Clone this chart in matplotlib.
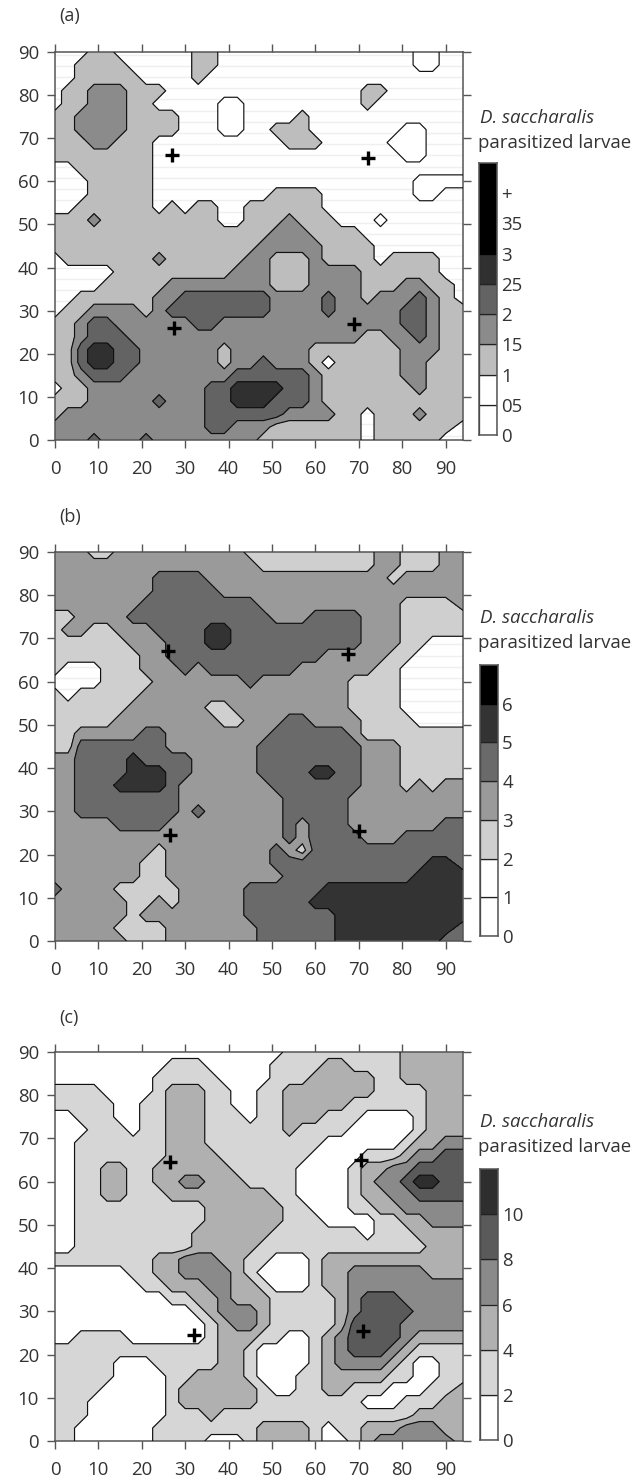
import matplotlib
matplotlib.use("Agg")
import matplotlib.pyplot as plt
import numpy as np

plt.rcParams['font.family'] = ['Open Sans', 'DejaVu Sans']

# sampling points of the maps (field position, m)
x_grid = [0, 3, 6, 9, 12, 15, 18, 21, 24, 27, 30, 33, 36, 39, 42, 45,
          48, 51, 54, 57, 60, 63, 66, 69, 72, 75, 78, 81, 84, 87, 90, 94]
y_grid = [90, 87, 84, 81, 78, 75, 72, 69, 66, 63, 60, 57, 54, 51, 48, 45,
          42, 39, 36, 33, 30, 27, 24, 21, 18, 15, 12, 9, 6, 3, 0]

rows_a = [
    "1112 2111 1112 2111 1111 1111 1111 0011",
    "1122 2211 1112 2111 1111 1111 1111 0011",
    "1122 2221 1112 1111 1111 1111 1111 1111",
    "1223 3322 2111 1111 1111 1111 2211 1111",
    "1223 3322 1111 1001 1111 1111 2111 1111",
    "2233 3322 2211 1001 1112 1111 1111 1111",
    "2233 3322 2211 1001 1222 1111 1110 0111",
    "2223 3222 1111 1111 1122 2111 1100 0111",
    "2222 2222 1111 1111 1111 1111 1110 0111",
    "1122 2222 1111 1111 1111 1111 1111 1111",
    "1112 2222 1111 1111 1111 1111 1111 0000",
    "1112 2222 1111 1111 1222 2111 1111 0011",
    "1122 2222 1212 2112 2222 2111 1111 1111",
    "2223 2222 2222 2112 2232 2211 1011 1111",
    "2222 2222 2222 2222 2333 2222 1111 1111",
    "2222 2222 2222 2222 3333 3222 2111 1111",
    "1222 2222 3222 2223 3222 3222 2122 2211",
    "1111 1222 2222 2233 3222 3333 2222 2211",
    "1111 2222 2333 3333 3222 3333 2223 3221",
    "1122 2222 3344 4444 4333 3433 2333 4321",
    "1223 3332 3444 4444 4333 3433 3334 4322",
    "2234 4333 3334 4333 3333 3333 3334 4322",
    "2234 4433 3333 3333 3333 3333 2233 4322",
    "2245 5443 3333 3233 3333 2222 2223 3322",
    "2245 5443 3333 3233 4333 2122 2223 3222",
    "2234 4433 3333 3344 4444 3222 2223 3222",
    "1223 3333 3333 4455 5544 3222 2222 3222",
    "2223 3333 4333 4455 5444 3222 2222 2222",
    "2333 3333 3333 4444 4433 3322 1222 3222",
    "3333 3333 3333 4433 3222 2222 1222 2221",
    "3334 3334 3333 3333 2222 2222 1222 2211",
]
rows_b = [
    "3332 2333 3333 3332 2222 2222 2332 2233",
    "3333 3333 3333 3333 2222 2222 2332 2233",
    "3333 3333 4444 3333 3333 3333 3323 3333",
    "3333 3333 4444 4333 3333 3333 3333 3333",
    "3333 3334 4444 4444 3333 3333 3332 2223",
    "2233 3344 4444 4444 4333 4444 3332 2222",
    "2332 2333 4444 5544 4444 4444 3332 2222",
    "2222 2233 3444 5544 4444 4444 3332 2111",
    "2222 2223 3444 4444 4444 4333 3322 1111",
    "2111 2223 3343 4444 4443 3333 3221 1111",
    "1111 2222 3333 3334 3333 3332 2221 1111",
    "2122 2223 3333 3333 3333 3332 2221 1111",
    "2222 2233 3333 2233 3333 3332 2221 1111",
    "2222 2333 3333 3223 3344 3333 2222 1111",
    "2233 3334 4333 3333 3444 4443 2222 2222",
    "2244 4444 4333 3333 4444 4444 3332 2222",
    "3344 4454 4443 3333 4444 4444 3332 2222",
    "3344 4455 5443 3333 4444 5544 3332 2222",
    "3344 4555 5433 3333 3444 4444 3332 3233",
    "3344 4444 4433 3333 3344 4443 3333 3333",
    "3344 4444 4434 3333 3344 4443 3333 3333",
    "3333 3444 4333 3333 3343 4443 3333 3344",
    "3333 3333 3333 3333 3343 4444 3334 4444",
    "3333 3333 2333 3333 3432 4444 4444 4444",
    "3333 3332 2333 3333 3444 4444 4444 4554",
    "3333 3332 2333 3333 3344 4444 4444 5555",
    "4333 3222 2233 3334 4444 4555 5555 5555",
    "3333 3322 3233 3334 4444 5555 5555 5555",
    "3333 3323 3333 3334 4444 4455 5555 5555",
    "3333 3222 2333 3333 4444 4455 5555 5554",
    "3333 3322 2333 3333 4444 4455 5555 5544",
]
rows_c = [
    "1111 1111 1111 1111 1122 2222 2223 3333",
    "1111 1111 1222 1111 1222 2332 2223 3333",
    "1111 1111 2222 2111 1222 3333 3223 3333",
    "2222 1111 2333 2211 2233 3333 3222 2333",
    "2222 2112 2333 2211 2233 3332 2222 2333",
    "1122 2112 2333 2221 2233 3222 1111 2333",
    "1112 2212 2333 2222 2232 2221 1111 2333",
    "1122 2222 2333 2222 2222 2111 1112 3344",
    "1122 2222 2333 3222 2222 1111 2223 4455",
    "1122 3322 3333 3322 2221 1112 3344 5555",
    "1122 3322 3344 3332 2221 1112 3445 6655",
    "1122 3322 2333 3333 3221 1112 3344 5555",
    "1122 2222 2222 3333 3322 1112 2334 4444",
    "1122 2222 2222 3333 3322 2111 1223 3444",
    "1122 2222 2223 3333 3222 2222 1222 3333",
    "1122 2222 2223 3333 2222 2222 2222 2333",
    "2222 2222 3344 4332 2111 2333 3333 3333",
    "1111 1122 3344 4432 1111 2334 4444 4333",
    "1111 1112 2333 4433 2111 2334 4444 4444",
    "1111 1111 1223 3433 3222 2234 5554 4444",
    "1111 1111 1112 3444 3222 2234 5555 4444",
    "1111 1111 1111 2344 3222 2235 5554 4444",
    "1122 2211 1111 2333 2211 2345 5554 3333",
    "2222 2222 2222 2332 1111 2345 5543 2222",
    "2222 2111 2222 2332 1111 2344 4432 1122",
    "2222 2111 1223 3332 1112 2333 3322 1122",
    "2222 1111 1233 3333 2112 2332 2211 1223",
    "2221 1111 1233 3333 2222 2222 1112 2233",
    "2221 1111 1222 3222 2222 2222 2222 3333",
    "2211 1111 2222 2222 3333 2122 3334 4433",
    "2211 1111 2222 1112 3333 2112 3444 4443",
]

# trap positions (the + signs)
traps_a_x = [27, 72, 27.5, 69]
traps_a_y = [66, 65.5, 26, 27]
traps_b_x = [26, 67.5, 26.5, 70]
traps_b_y = [67, 66.5, 24.5, 25.5]
traps_c_x = [26.5, 70.5, 32, 71]
traps_c_y = [64.5, 65, 24.5, 25.5]

# colour of each class in the maps (index = digit in rows_*)
colors_a = ['white', 'none', '#bdbdbd', '#8b8b8b', '#636363', '#303030', '#000000']
colors_b = ['white', 'none', '#cfcfcf', '#9a9a9a', '#6a6a6a', '#333333', '#000000']
colors_c = ['white', 'white', '#d6d6d6', '#b0b0b0', '#8a8a8a', '#5a5a5a', '#2e2e2e']

# legend scales
legend_a_labels = ['0', '05', '1', '15', '2', '25', '3', '35', '+']
legend_a_colors = ['white', 'white', '#bdbdbd', '#8b8b8b', '#636363', '#303030', '#000000', '#000000', '#000000']
legend_b_labels = ['0', '1', '2', '3', '4', '5', '6']
legend_b_colors = ['white', 'white', '#cfcfcf', '#9a9a9a', '#6a6a6a', '#333333', '#000000']
legend_c_labels = ['0', '2', '4', '6', '8', '10']
legend_c_colors = ['white', '#d6d6d6', '#b0b0b0', '#8a8a8a', '#5a5a5a', '#2e2e2e']

W, H = 638, 1479
SPINE = '#555555'
TEXT = '#333333'
FS = 13.4

fig = plt.figure(figsize=(W / 100, H / 100), dpi=100)


def box(left, top, right, bottom):
    return [left / W, 1 - bottom / H, (right - left) / W, (bottom - top) / H]


def dibujar_mapa(rows, colors, traps_x, traps_y, top, bottom, stripes):
    ax = fig.add_axes(box(55, top, 463, bottom))
    z = np.array([[int(c) for c in r.replace(' ', '')] for r in rows], dtype=float)
    levels = [-0.5, 0.5, 1.5, 2.5, 3.5, 4.5, 5.5, 6.5]
    if stripes:
        # faint scan lines that only show in the 0.5-1 class
        ax.hlines(np.arange(1, 90, 2.6), 0, 94, color='#efefef', linewidth=1.0, zorder=1)
    ax.contourf(x_grid, y_grid, z, levels=levels, colors=colors, zorder=2)
    ax.contour(x_grid, y_grid, z, levels=levels[1:-1], colors='#111111', linewidths=0.85, zorder=3)
    ax.plot(traps_x, traps_y, '+', color='black', markersize=9.5, markeredgewidth=2.4, zorder=4)
    ax.set_xlim(0, 94)
    ax.set_ylim(0, 90)
    ax.set_xticks(range(0, 100, 10))
    ax.set_yticks(range(0, 100, 10))
    ax.tick_params(axis='both', direction='out', length=5.5, width=1, color=SPINE,
                   labelsize=FS, labelcolor=TEXT, top=True, right=True, pad=6)
    ax.tick_params(axis='x', pad=9)
    for s in ax.spines.values():
        s.set_color(SPINE)
        s.set_linewidth(1.1)
    return ax


def dibujar_leyenda(labels, colors, left, top, bottom, title_y):
    cax = fig.add_axes(box(left, top, left + 18, bottom))
    n = len(colors)
    # black classes run together, so they get no dark line of another tone
    edges = ['#000000' if c == '#000000' else '#222222' for c in colors]
    cax.bar([0] * n, [1] * n, bottom=range(n), width=1, color=colors,
            edgecolor=edges, linewidth=0.9)
    cax.set_xlim(-0.5, 0.5)
    cax.set_ylim(0, n)
    cax.set_xticks([])
    cax.set_yticks(range(len(labels)))
    cax.set_yticklabels(labels)
    cax.yaxis.tick_right()
    cax.tick_params(axis='y', length=0, pad=3, labelsize=FS, labelcolor=TEXT)
    for s in cax.spines.values():
        s.set_color(SPINE)
        s.set_linewidth(1.1)
    fig.text(480 / W, 1 - title_y / H, 'D. saccharalis', style='italic', fontsize=FS,
             color=TEXT, va='center', ha='left')
    fig.text(478 / W, 1 - (title_y + 24.5) / H, 'parasitized larvae', fontsize=FS,
             color=TEXT, va='center', ha='left')


dibujar_mapa(rows_a, colors_a, traps_a_x, traps_a_y, 52, 440, True)
dibujar_mapa(rows_b, colors_b, traps_b_x, traps_b_y, 552, 941, True)
dibujar_mapa(rows_c, colors_c, traps_c_x, traps_c_y, 1052, 1441, False)

dibujar_leyenda(legend_a_labels, legend_a_colors, 479, 163, 435, 118)
dibujar_leyenda(legend_b_labels, legend_b_colors, 480, 665, 936, 618)
dibujar_leyenda(legend_c_labels, legend_c_colors, 480, 1169, 1440, 1122)

for txt, y in [('(a)', 16), ('(b)', 517), ('(c)', 1018)]:
    fig.text(59 / W, 1 - y / H, txt, fontsize=FS - 0.4, color=TEXT, va='center', ha='left')

fig.savefig('out.png', dpi=100)
